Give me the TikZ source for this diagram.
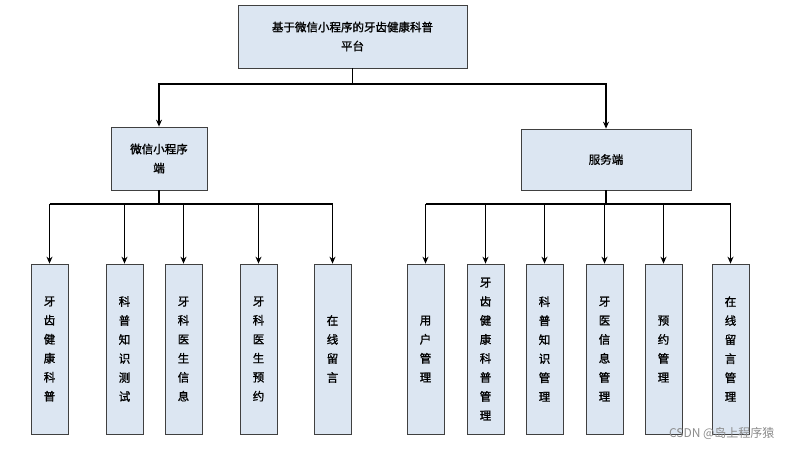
\documentclass[tikz,border=0pt]{standalone}
\usepackage{fontspec}
\setmainfont[AutoFakeBold=1.2]{Noto Sans CJK SC}
\usetikzlibrary{arrows.meta}
\usetikzlibrary{positioning}
\definecolor{boxblue}{HTML}{DCE6F2}
\tikzset{
	module/.style={
		draw=black!75, fill=boxblue, line width=0.7pt,
		inner sep=0pt, align=center, font=\fontsize{11.5}{19}\selectfont\bfseries
	},
	leaf/.style={
		module, minimum width=37pt, minimum height=170pt
	},
	bus/.style={line width=1.3pt},
	branch/.style={line width=1.3pt, -{Stealth[length=7pt,width=6pt]}}
}
\newcommand{\leafbox}[3]{\node[leaf] (#1) at (#2,349) {#3};}

\begin{document}
\begin{tikzpicture}[x=1pt,y=-1pt]
\useasboundingbox (0,0) rectangle (792,451);
\node[module, minimum width=229pt, minimum height=63pt] (root) at (352.5,36.5) {基于微信小程序的牙齿健康科普\\平台};
\node[module, minimum width=96pt, minimum height=63pt] (wx) at (159,158.5) {微信小程序\\端};
\node[module, minimum width=170pt, minimum height=61pt] (srv) at (606,159.5) {服务端};

% left leaves
\leafbox{l1}{49.5}{牙\\齿\\健\\康\\科\\普}
\leafbox{l2}{124.5}{科\\普\\知\\识\\测\\试}
\leafbox{l3}{183.5}{牙\\科\\医\\生\\信\\息}
\leafbox{l4}{258.5}{牙\\科\\医\\生\\预\\约}
\leafbox{l5}{332.5}{在\\线\\留\\言}
% right leaves
\leafbox{r1}{425.5}{用\\户\\管\\理}
\leafbox{r2}{485.5}{牙\\齿\\健\\康\\科\\普\\管\\理}
\leafbox{r3}{544.5}{科\\普\\知\\识\\管\\理}
\leafbox{r4}{604.5}{牙\\医\\信\\息\\管\\理}
\leafbox{r5}{663.5}{预\\约\\管\\理}
\leafbox{r6}{730.5}{在\\线\\留\\言\\管\\理}

\coordinate (top) at (352.5,84);
\draw[bus] (root.south) -- (top);
\draw[branch] (top) -| (wx.north);
\draw[branch] (top) -| (srv.north);

\draw[bus] (wx.south) -- (159,204);
\draw[bus] (l1.north |- 0,204) -- (l5.north |- 0,204);
\foreach \n in {l1,l2,l3,l4,l5}
	\draw[branch] (\n.north |- 0,204) -- (\n.north);

\draw[bus] (srv.south) -- (606,204);
\draw[bus] (r1.north |- 0,204) -- (r6.north |- 0,204);
\foreach \n in {r1,r2,r3,r4,r5,r6}
	\draw[branch] (\n.north |- 0,204) -- (\n.north);

\node[text=black!45, font=\fontsize{12}{14}\selectfont, anchor=east] (mark) at (778,433) {CSDN @岛上程序猿};
\end{tikzpicture}
\end{document}
